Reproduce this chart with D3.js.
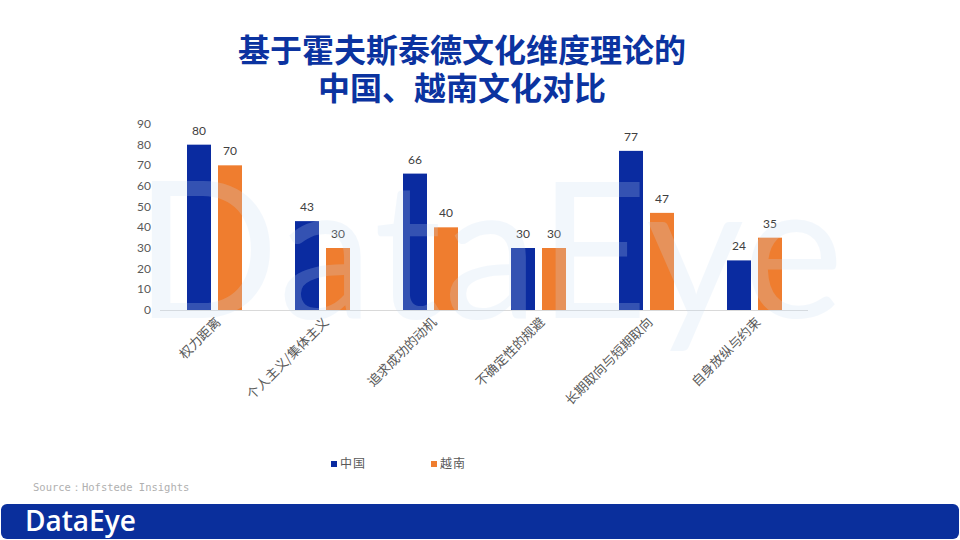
<!DOCTYPE html>
<html><head><meta charset="utf-8">
<script src="https://cdn.jsdelivr.net/npm/d3@7"></script>
<style>body{margin:0;background:#fff;}svg{display:block;font-family:"Noto Sans CJK SC","Noto Sans",sans-serif;}</style>
</head><body><svg id="c" width="960" height="540"></svg>
<script>
const categories = ["权力距离","个人主义/集体主义","追求成功的动机","不确定性的规避","长期取向与短期取向","自身放纵与约束"];
const seriesNames = ["中国","越南"];
const chinaValues = [80,43,66,30,77,24];
const vietnamValues = [70,30,40,30,47,35];
const yTicks = [0,10,20,30,40,50,60,70,80,90];
const colors = ["#0a2ba0","#ef7d2f"];

const svg = d3.select("#c");
const x = d3.scaleBand().domain(categories).range([160.5,808.5]);
const y = d3.scaleLinear().domain([0,90]).range([310,124]);
const barW = 24, gap = 7;

// title
svg.append("text").attr("x",462).attr("y",62).attr("text-anchor","middle")
  .attr("font-size",32).attr("font-weight","bold").attr("fill","#0b33a0").text("基于霍夫斯泰德文化维度理论的");
svg.append("text").attr("x",462).attr("y",100).attr("text-anchor","middle")
  .attr("font-size",32).attr("font-weight","bold").attr("fill","#0b33a0").text("中国、越南文化对比");

// y ticks
svg.append("g").selectAll("text").data(yTicks).join("text")
  .attr("x",151).attr("y",d=>y(d)+4).attr("text-anchor","end")
  .attr("font-size",12).attr("fill","#595959").attr("font-family","Lato,'Noto Sans',sans-serif").text(d=>d);

// axis line
svg.append("line").attr("x1",160).attr("x2",808).attr("y1",310.5).attr("y2",310.5).attr("stroke","#d9d9d9");

const data = [chinaValues, vietnamValues];
data.forEach((vals,si)=>{
  const g = svg.append("g");
  g.selectAll("rect").data(categories).join("rect")
    .attr("x",(c)=>x(c)+x.bandwidth()/2 + (si===0 ? -gap/2-barW : gap/2))
    .attr("y",(c,i)=>y(vals[i])).attr("width",barW).attr("height",(c,i)=>310-y(vals[i]))
    .attr("fill",colors[si]);
  g.selectAll("text").data(categories).join("text")
    .attr("x",(c)=>x(c)+x.bandwidth()/2 + (si===0 ? -gap/2-barW/2 : gap/2+barW/2))
    .attr("y",(c,i)=>y(vals[i])-10).attr("text-anchor","middle")
    .attr("font-size",12).attr("fill","#404040").attr("font-family","Lato,'Noto Sans',sans-serif").text((c,i)=>vals[i]);
});

// category labels
svg.append("g").selectAll("text").data(categories).join("text")
  .attr("transform",c=>`translate(${x(c)+x.bandwidth()/2+7},${323}) rotate(-45)`)
  .attr("text-anchor","end").attr("font-size",13).attr("fill","#595959").text(c=>c);

// watermark
svg.append("text").attr("x",490).attr("y",318).attr("text-anchor","middle")
  .attr("font-size",190).attr("font-weight",400).attr("font-family","Lato,'Open Sans',sans-serif")
  .attr("fill","#c8def5").attr("opacity",0.22).attr("letter-spacing",2).text("DataEye");

// legend
const lg = svg.append("g");
seriesNames.forEach((n,i)=>{
  const lx = 330 + i*100;
  lg.append("rect").attr("x",lx+1).attr("y",461).attr("width",6).attr("height",6).attr("fill",colors[i]);
  lg.append("text").attr("x",lx+10).attr("y",468).attr("font-size",12).attr("fill","#595959").attr("letter-spacing",1).text(n);
});

// source
svg.append("text").attr("x",33).attr("y",491).attr("font-size",10.5).attr("fill","#b0b0b0")
  .attr("font-family","'DejaVu Sans Mono',monospace").text("Source：Hofstede Insights");

// footer
svg.append("rect").attr("x",1).attr("y",504).attr("width",958).attr("height",35).attr("rx",6).attr("fill","#0a2f9c");
svg.append("text").attr("x",25).attr("y",531).attr("font-size",28).attr("font-weight",600)
  .attr("font-family","'Open Sans',sans-serif").attr("fill","#fff").attr("letter-spacing",0).text("DataEye");
</script></body></html>
